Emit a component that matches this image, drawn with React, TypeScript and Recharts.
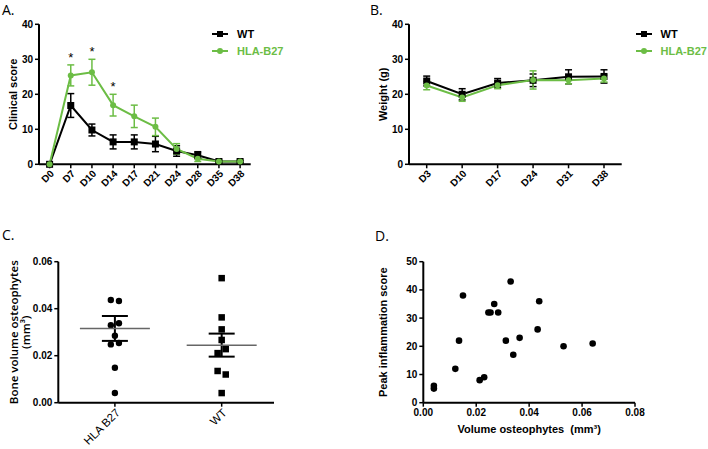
import React from 'react';
import {
  LineChart,
  Line,
  XAxis,
  YAxis,
  ErrorBar,
  Legend,
  LabelList,
  ScatterChart,
  Scatter
} from 'recharts';

// A. clinical score
const scoreDays = ['D0', 'D7', 'D10', 'D14', 'D17', 'D21', 'D24', 'D28', 'D35', 'D38'];
const wtScore = [0, 16.8, 9.8, 6.4, 6.4, 5.8, 3.8, 2.6, 0.8, 0.8];
const wtScoreErr = [0, 3.4, 1.7, 2.0, 2.0, 2.2, 1.5, 1.0, 0.3, 0.3];
const hlaScore = [0, 25.4, 26.3, 16.9, 13.7, 10.7, 4.4, 1.6, 0.8, 0.8];
const hlaScoreErr = [0, 3.0, 3.7, 3.1, 3.2, 2.5, 1.5, 0.8, 0.3, 0.3];
const sigMarks = ['', '*', '*', '*', '', '', '', '', '', ''];

// B. weight
const weightDays = ['D3', 'D10', 'D17', 'D24', 'D31', 'D38'];
const wtWeight = [23.8, 20.0, 23.2, 24.0, 25.0, 25.1];
const wtWeightErr = [1.4, 1.6, 1.3, 1.8, 2.0, 1.9];
const hlaWeight = [22.5, 19.1, 22.6, 24.1, 24.0, 24.5];
const hlaWeightErr = [1.2, 1.1, 1.0, 2.6, 1.0, 1.0];

const seriesNames = ['WT', 'HLA-B27'];

// C. bone volume osteophytes
const groupNames = ['HLA B27', 'WT'];
const hlaVolume = [0.0437, 0.0433, 0.033, 0.0338, 0.0285, 0.0248, 0.0254, 0.0149, 0.0041];
const hlaJitter = [-1, 1, -1, 1, 0, -1, 1, 0, 0];
const wtVolume = [0.053, 0.0363, 0.0312, 0.0267, 0.0211, 0.0228, 0.0135, 0.012, 0.0041];
const wtJitter = [0, 0, 0, 0, -1, 1, -1, 1, 0];
const groupMean = [0.0316, 0.0245];
const groupSem = [0.0053, 0.0049];

// D. peak inflammation vs volume
const peakVolume = [0.004, 0.004, 0.0121, 0.0135, 0.015, 0.0213, 0.023, 0.0246, 0.0254, 0.0268, 0.0283, 0.0312, 0.033, 0.034, 0.0364, 0.0432, 0.0438, 0.053, 0.064];
const peakScore = [6, 5, 12, 22, 38, 8, 9, 32, 32, 35, 32, 22, 43, 17, 23, 26, 36, 20, 21];

const GREEN = '#6cbd45';
const FONT = '"Liberation Sans", Arial, sans-serif';
const JITTER = 0.038;

const scoreData = scoreDays.map((d, i) => ({
  day: d,
  wt: wtScore[i],
  wtErr: wtScoreErr[i],
  hla: hlaScore[i],
  hlaErr: hlaScoreErr[i],
  sig: sigMarks[i],
  sigTop: sigMarks[i] ? hlaScore[i] + hlaScoreErr[i] : null
}));

const weightData = weightDays.map((d, i) => ({
  day: d,
  wt: wtWeight[i],
  wtErr: wtWeightErr[i],
  hla: hlaWeight[i],
  hlaErr: hlaWeightErr[i]
}));

const hlaPoints = hlaVolume.map((v, i) => ({ x: 0 + hlaJitter[i] * JITTER, y: v }));
const wtPoints = wtVolume.map((v, i) => ({ x: 1 + wtJitter[i] * JITTER, y: v }));
const meanPoints = groupMean.map((m, i) => ({ x: i, y: m, sem: groupSem[i] }));
const peakPoints = peakVolume.map((v, i) => ({ x: v, y: peakScore[i] }));

const axisLine = { stroke: '#000', strokeWidth: 2 };
const tickLine = { stroke: '#000', strokeWidth: 1.5 };
const tickStyle = { fontSize: 10, fontWeight: 'bold', fill: '#000', fontFamily: FONT };

const SquareDot = (props: any) => {
  const { cx, cy, fill, size = 7 } = props;
  if (cx == null || cy == null) return null;
  return <rect x={cx - size / 2} y={cy - size / 2} width={size} height={size} fill={fill} />;
};

const RoundDot = (props: any) => {
  const { cx, cy, fill, r = 3.3 } = props;
  if (cx == null || cy == null) return null;
  return <circle cx={cx} cy={cy} r={r} fill={fill} />;
};

const MeanLine = (props: any) => {
  const { cx, cy } = props;
  return <line x1={cx - 35} x2={cx + 35} y1={cy} y2={cy} stroke="#666" strokeWidth={1.5} />;
};

// rotated axis title, posX is the chart-relative centre of the first line
const YTitle = (props: any) => {
  const { viewBox, lines, posX, font = FONT, weight = 'bold', size = 11 } = props;
  const cy = viewBox.y + viewBox.height / 2;
  return (
    <text
      transform={`translate(${posX},${cy}) rotate(-90)`}
      textAnchor="middle"
      dominantBaseline="central"
      fontFamily={font}
      fontWeight={weight}
      fontSize={size}
      fill="#000"
    >
      {lines.map((l: string, i: number) => (
        <tspan key={l} x={0} dy={i === 0 ? 0 : 12}>{l}</tspan>
      ))}
    </text>
  );
};

const XTitle = (props: any) => {
  const { viewBox, text, posY } = props;
  return (
    <text x={viewBox.x + viewBox.width / 2} y={posY} textAnchor="middle" dominantBaseline="central"
      fontFamily={FONT} fontWeight="bold" fontSize={11} fill="#000">
      {text}
    </text>
  );
};

const renderLegend = (props: any) => {
  const { payload = [] } = props;
  const items = payload
    .filter((e: any) => seriesNames.includes(e.value))
    .sort((a: any, b: any) => seriesNames.indexOf(a.value) - seriesNames.indexOf(b.value));
  return (
    <div style={{ fontFamily: FONT, whiteSpace: 'nowrap' }}>
      {items.map((entry: any, i: number) => (
        <div key={entry.value} style={{ display: 'flex', alignItems: 'center', height: 17 }}>
          <svg width={17} height={10}>
            <line x1={0} x2={16} y1={5} y2={5} stroke={entry.color} strokeWidth={2} />
            {i === 0
              ? <rect x={5} y={2} width={6} height={6} fill={entry.color} />
              : <circle cx={8} cy={5} r={3} fill={entry.color} />}
          </svg>
          <span style={{ marginLeft: 8, fontWeight: 'bold', fontSize: 11, color: entry.color }}>{entry.value}</span>
        </div>
      ))}
    </div>
  );
};

const PanelTag = ({ text, left, top }: { text: string; left: number; top: number }) => (
  <div style={{ position: 'absolute', left, top, fontFamily: '"Open Sans", sans-serif', fontSize: 14, lineHeight: '16px', color: '#000' }}>
    {text}
  </div>
);

const App = () => {
  return (
    <div style={{ position: 'absolute', left: 0, top: 0, width: 708, height: 449, background: '#fff', overflow: 'hidden', fontFamily: FONT }}>
      <PanelTag text="A." left={2} top={2} />
      <PanelTag text="B." left={370} top={2} />
      <PanelTag text="C." left={2} top={227} />
      <PanelTag text="D." left={375} top={228} />

      <div style={{ position: 'absolute', left: 0, top: 0 }}>
        <LineChart width={354} height={225} data={scoreData} margin={{ top: 24.3, right: 103.3, bottom: 20.7, left: 9 }}>
          <XAxis dataKey="day" axisLine={axisLine} tickLine={tickLine} tickSize={4} tickMargin={1}
            tick={tickStyle} angle={-45} textAnchor="end" height={40} interval={0}
            padding={{ left: 10.6, right: 10.6 }} />
          <YAxis domain={[0, 40]} ticks={[0, 10, 20, 30, 40]} axisLine={axisLine} tickLine={tickLine}
            tickSize={4} tickMargin={2} tick={tickStyle} width={30}
            label={<YTitle lines={['Clinical score']} posX={13} />} />
          <Legend layout="vertical" align="center" verticalAlign="middle" content={renderLegend}
            wrapperStyle={{ left: 212, top: 25, width: 'auto' }} />
          <Line dataKey="wt" name="WT" stroke="#000" strokeWidth={2} isAnimationActive={false}
            dot={(p: any) => <SquareDot key={p.index} {...p} fill="#000" />}>
            <ErrorBar dataKey="wtErr" direction="y" width={3.5} stroke="#000" strokeWidth={1.5} />
          </Line>
          <Line dataKey="hla" name="HLA-B27" stroke={GREEN} strokeWidth={2} isAnimationActive={false}
            dot={(p: any) => <RoundDot key={p.index} {...p} fill={GREEN} />}>
            <ErrorBar dataKey="hlaErr" direction="y" width={3.5} stroke={GREEN} strokeWidth={1.5} />
          </Line>
          <Line dataKey="sigTop" stroke="none" dot={false} legendType="none" isAnimationActive={false}>
            <LabelList dataKey="sig" position="top" offset={3} fontSize={13} fill="#000" fontFamily={FONT} />
          </Line>
        </LineChart>
      </div>

      <div style={{ position: 'absolute', left: 354, top: 0 }}>
        <LineChart width={354} height={225} data={weightData} margin={{ top: 24.3, right: 86.3, bottom: 20.7, left: 25 }}>
          <XAxis dataKey="day" axisLine={axisLine} tickLine={tickLine} tickSize={4} tickMargin={1}
            tick={tickStyle} angle={-45} textAnchor="end" height={40} interval={0}
            padding={{ left: 17.7, right: 17.7 }} />
          <YAxis domain={[0, 40]} ticks={[0, 10, 20, 30, 40]} axisLine={axisLine} tickLine={tickLine}
            tickSize={4} tickMargin={2} tick={tickStyle} width={30}
            label={<YTitle lines={['Weight (g)']} posX={28.5} />} />
          <Legend layout="vertical" align="center" verticalAlign="middle" content={renderLegend}
            wrapperStyle={{ left: 281.5, top: 25, width: 'auto' }} />
          <Line dataKey="wt" name="WT" stroke="#000" strokeWidth={2} isAnimationActive={false}
            dot={(p: any) => <SquareDot key={p.index} {...p} fill="#000" />}>
            <ErrorBar dataKey="wtErr" direction="y" width={3.5} stroke="#000" strokeWidth={1.5} />
          </Line>
          <Line dataKey="hla" name="HLA-B27" stroke={GREEN} strokeWidth={2} isAnimationActive={false}
            dot={(p: any) => <RoundDot key={p.index} {...p} fill={GREEN} />}>
            <ErrorBar dataKey="hlaErr" direction="y" width={3.5} stroke={GREEN} strokeWidth={1.5} />
          </Line>
        </LineChart>
      </div>

      <div style={{ position: 'absolute', left: 0, top: 225 }}>
        <ScatterChart width={354} height={224} margin={{ top: 36.7, right: 80, bottom: 6.3, left: 28.3 }}>
          <XAxis type="number" dataKey="x" domain={[-0.53, 1.49]} ticks={[0, 1]} allowDataOverflow
            tickFormatter={(v: number) => groupNames[Math.round(v)]} axisLine={axisLine} tickLine={tickLine}
            tickSize={4} tickMargin={1} angle={-45} textAnchor="end" height={40} interval={0}
            tick={{ fontSize: 11.5, fill: '#000', fontFamily: FONT }} />
          <YAxis type="number" dataKey="y" domain={[0, 0.06]} ticks={[0, 0.02, 0.04, 0.06]}
            tickFormatter={(v: number) => v.toFixed(2)} axisLine={axisLine} tickLine={tickLine}
            tickSize={4} tickMargin={2} tick={tickStyle} width={30}
            label={<YTitle lines={['Bone volume osteophytes', '(mm\u00b3)']} posX={13.3} weight={600} size={11.5}
              font='"Open Sans", sans-serif' />} />
          <Scatter data={hlaPoints} fill="#000" isAnimationActive={false}
            shape={(p: any) => <RoundDot {...p} fill="#000" r={3.2} />} />
          <Scatter data={wtPoints} fill="#000" isAnimationActive={false}
            shape={(p: any) => <SquareDot {...p} fill="#000" size={6.5} />} />
          <Scatter data={meanPoints} fill="#666" isAnimationActive={false} shape={(p: any) => <MeanLine {...p} />}>
            <ErrorBar dataKey="sem" direction="y" width={13} stroke="#000" strokeWidth={2} />
          </Scatter>
        </ScatterChart>
      </div>

      <div style={{ position: 'absolute', left: 354, top: 225 }}>
        <ScatterChart width={354} height={224} margin={{ top: 36.7, right: 73, bottom: 6.3, left: 39.3 }}>
          <XAxis type="number" dataKey="x" domain={[0, 0.08]} ticks={[0, 0.02, 0.04, 0.06, 0.08]}
            tickFormatter={(v: number) => v.toFixed(2)} axisLine={axisLine} tickLine={tickLine}
            tickSize={4} tickMargin={2} tick={tickStyle} height={40} interval={0}
            label={<XTitle text={'Volume osteophytes\u00a0 (mm\u00b3)'} posY={204} />} />
          <YAxis type="number" dataKey="y" domain={[0, 50]} ticks={[0, 10, 20, 30, 40, 50]}
            axisLine={axisLine} tickLine={tickLine} tickSize={4} tickMargin={2} tick={tickStyle} width={30}
            label={<YTitle lines={['Peak inflammation score']} posX={29.3} />} />
          <Scatter data={peakPoints} fill="#000" isAnimationActive={false}
            shape={(p: any) => <RoundDot {...p} fill="#000" r={3.3} />} />
        </ScatterChart>
      </div>
    </div>
  );
};

export default App;
